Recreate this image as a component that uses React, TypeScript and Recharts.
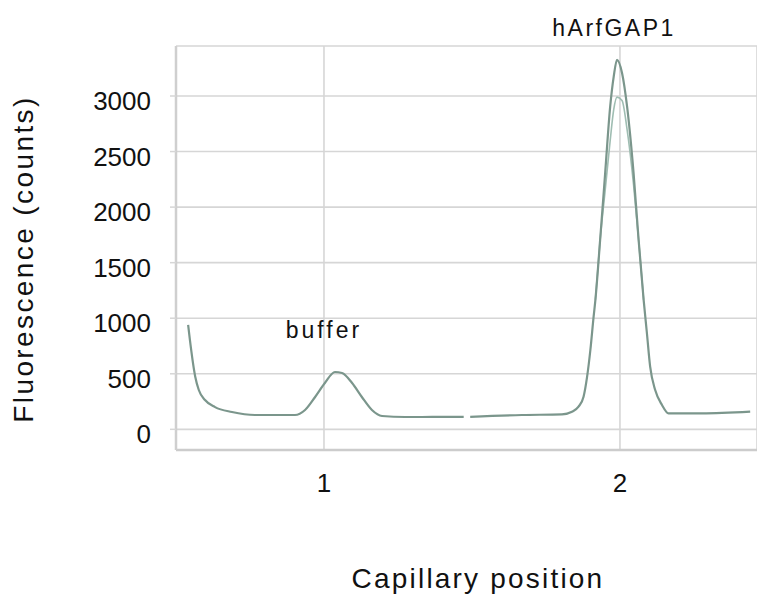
import {
  CartesianGrid,
  Label,
  Line,
  LineChart,
  ReferenceDot,
  XAxis,
  YAxis,
} from "recharts";

const FONT = '"Liberation Sans", Arial, sans-serif';

// capillary scan: position along the tray vs. fluorescence counts
const positions = [
  0.541, 0.547, 0.565, 0.577, 0.598, 0.632, 0.689, 0.767, 0.902, 0.936,
  0.97, 1.003, 1.037, 1.061, 1.095, 1.128, 1.162, 1.196, 1.274, 1.331,
  1.4, 1.472, 1.483, 1.494, 1.669, 1.804, 1.838, 1.86, 1.877, 1.889,
  1.9, 1.911, 1.917, 1.933, 1.95, 1.967, 1.979, 1.99, 2.007, 2.024,
  2.046, 2.063, 2.08, 2.091, 2.102, 2.119, 2.142, 2.164, 2.277, 2.44,
];
const counts: (number | null)[] = [
  940, 805, 474, 354, 264, 200, 156, 129, 129, 174,
  291, 417, 516, 507, 417, 291, 174, 120, 111, 111,
  113, 113, null, 113, 129, 135, 159, 204, 294, 474,
  714, 1014, 1165, 1705, 2306, 2906, 3177, 3326, 3207, 2906,
  2306, 1705, 1165, 867, 564, 354, 219, 144, 144, 159,
];

// second scan, only differs around the protein peak
const repeatPositions = [1.917, 1.933, 1.95, 1.967, 1.979, 1.99, 2.007, 2.024, 2.046, 2.063, 2.08];
const repeatCounts = [1165, 1705, 2150, 2600, 2880, 2990, 2960, 2700, 2200, 1705, 1165];

const yTicks = [0, 500, 1000, 1500, 2000, 2500, 3000];
const xTicks = [1, 2];

const peakNames = ["buffer", "hArfGAP1"];
const peakPositions = [1, 1.98];
const peakLabelLevels = [822, 3540];

const scan = positions.map((pos, i) => ({ pos, counts: counts[i] }));
const repeatScan = repeatPositions.map((pos, i) => ({ pos, counts: repeatCounts[i] }));

function YTick({ x, y, payload }: any) {
  return (
    <text x={x} y={y} dy={14} textAnchor="end" fontSize={26} fontFamily={FONT} fill="#111">
      {payload.value}
    </text>
  );
}

function XTick({ x, y, payload }: any) {
  return (
    <text x={x} y={y} dy={18} textAnchor="middle" fontSize={26} fontFamily={FONT} fill="#111">
      {payload.value}
    </text>
  );
}

export default function App() {
  return (
    <div style={{ position: "absolute", left: 0, top: 0, width: 757, height: 595, background: "#fff" }}>
      <LineChart width={757} height={595} margin={{ top: 46, right: 0, bottom: 0, left: 0 }}>
        <CartesianGrid stroke="#d6d6d6" strokeWidth={1.6} />
        <XAxis
          type="number"
          dataKey="pos"
          domain={[0.5, 2.463]}
          ticks={xTicks}
          allowDataOverflow
          axisLine={{ stroke: "#cccccc", strokeWidth: 2.5 }}
          tickLine={false}
          tickSize={0}
          tickMargin={24}
          tick={<XTick />}
          height={145}
        >
          <Label
            content={() => (
              <text x={478} y={588} textAnchor="middle" fontSize={28} letterSpacing={2.2} fontFamily={FONT} fill="#111">
                Capillary position
              </text>
            )}
          />
        </XAxis>
        <YAxis
          type="number"
          domain={[-186, 3450]}
          ticks={yTicks}
          allowDataOverflow
          width={176}
          axisLine={{ stroke: "#cfcfcf", strokeWidth: 2.5 }}
          tickLine={{ stroke: "#d6d6d6", strokeWidth: 1.5 }}
          tickSize={6}
          tickMargin={19}
          tick={<YTick />}
        >
          <Label
            content={() => (
              <text
                transform="translate(33,259) rotate(-90)"
                textAnchor="middle"
                fontSize={28}
                letterSpacing={2.4}
                fontFamily={FONT}
                fill="#111"
              >
                Fluorescence (counts)
              </text>
            )}
          />
        </YAxis>
        <Line
          data={repeatScan}
          dataKey="counts"
          type="monotone"
          stroke="#9fbdb2"
          strokeWidth={1.6}
          dot={false}
          isAnimationActive={false}
        />
        <Line
          data={scan}
          dataKey="counts"
          type="monotone"
          stroke="#7b968c"
          strokeWidth={2.2}
          dot={false}
          connectNulls={false}
          isAnimationActive={false}
        />
        {peakNames.map((name, i) => (
          <ReferenceDot
            key={name}
            x={peakPositions[i]}
            y={peakLabelLevels[i]}
            r={0}
            ifOverflow="visible"
            shape={(p: any) => (
              <text
                x={p.cx}
                y={p.cy}
                textAnchor="middle"
                fontSize={23}
                letterSpacing={i === 0 ? 3 : 2.5}
                fontFamily={FONT}
                fill="#111"
              >
                {name}
              </text>
            )}
          />
        ))}
      </LineChart>
    </div>
  );
}
